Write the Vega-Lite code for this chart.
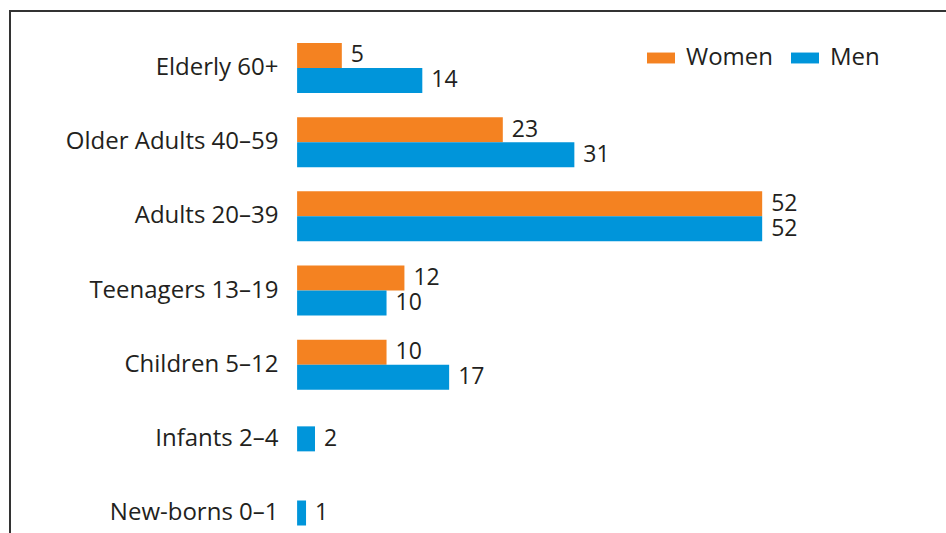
{
  "$schema": "https://vega.github.io/schema/vega-lite/v6.json",
  "width": 946,
  "height": 533,
  "autosize": {"type": "fit", "contains": "padding"},
  "padding": {"left": 10, "top": 11, "right": -4, "bottom": -37},
  "background": "white",
  "config": {
    "view": {"stroke": "#333333", "strokeWidth": 2},
    "font": "Open Sans",
    "text": {"font": "Open Sans"}
  },
  "data": {
    "values": [
      {"group": "Elderly 60+", "gender": "Women", "n": 5},
      {"group": "Elderly 60+", "gender": "Men", "n": 14},
      {"group": "Older Adults 40–59", "gender": "Women", "n": 23},
      {"group": "Older Adults 40–59", "gender": "Men", "n": 31},
      {"group": "Adults 20–39", "gender": "Women", "n": 52},
      {"group": "Adults 20–39", "gender": "Men", "n": 52},
      {"group": "Teenagers 13–19", "gender": "Women", "n": 12},
      {"group": "Teenagers 13–19", "gender": "Men", "n": 10},
      {"group": "Children 5–12", "gender": "Women", "n": 10},
      {"group": "Children 5–12", "gender": "Men", "n": 17},
      {"group": "Infants 2–4", "gender": "Men", "n": 2},
      {"group": "New-borns 0–1", "gender": "Men", "n": 1}
    ]
  },
  "encoding": {
    "y": {
      "field": "group",
      "type": "nominal",
      "sort": null,
      "scale": {"paddingInner": 0.326, "paddingOuter": 0.431},
      "axis": {
        "title": null,
        "offset": -287,
        "domain": false,
        "ticks": false,
        "labelPadding": 19,
        "labelLimit": 0,
        "labelFontSize": 24,
        "labelFont": "Open Sans",
        "labelColor": "#231F20"
      }
    },
    "x": {
      "field": "n",
      "type": "quantitative",
      "scale": {"domain": [-32.1, 73.0], "nice": false, "zero": false},
      "axis": null
    },
    "color": {
      "field": "gender",
      "type": "nominal",
      "scale": {"domain": ["Women", "Men"], "range": ["#F48221", "#0095DA"]},
      "legend": {
        "title": null,
        "orient": "none",
        "legendX": 637,
        "legendY": 33,
        "direction": "horizontal",
        "symbolType": "M-1,-0.39H1V0.39H-1Z",
        "symbolSize": 784,
        "symbolStrokeWidth": 0,
        "symbolOpacity": 1,
        "labelFontSize": 24,
        "labelFont": "Open Sans",
        "labelColor": "#231F20",
        "labelOffset": 11,
        "columnPadding": 17,
        "padding": 0
      }
    }
  },
  "layer": [
    {
      "transform": [{"filter": {"not": {"field": "group", "oneOf": ["Infants 2–4", "New-borns 0–1"]}}}],
      "mark": {"type": "bar", "opacity": 1},
      "encoding": {
        "x2": {"datum": 0},
        "yOffset": {"field": "gender", "type": "nominal", "sort": ["Women", "Men"], "scale": {"paddingInner": 0, "paddingOuter": 0}}
      }
    },
    {
      "transform": [{"filter": {"not": {"field": "group", "oneOf": ["Infants 2–4", "New-borns 0–1"]}}}],
      "mark": {"type": "text", "align": "left", "baseline": "middle", "dx": 9, "fontSize": 23},
      "encoding": {
        "text": {"field": "n", "type": "quantitative"},
        "color": {"value": "#231F20"},
        "yOffset": {"field": "gender", "type": "nominal", "sort": ["Women", "Men"]}
      }
    },
    {
      "transform": [{"filter": {"field": "group", "oneOf": ["Infants 2–4", "New-borns 0–1"]}}],
      "mark": {"type": "bar", "opacity": 1, "height": {"band": 0.5}},
      "encoding": {
        "x2": {"datum": 0}
      }
    },
    {
      "transform": [{"filter": {"field": "group", "oneOf": ["Infants 2–4", "New-borns 0–1"]}}],
      "mark": {"type": "text", "align": "left", "baseline": "middle", "dx": 9, "fontSize": 23},
      "encoding": {
        "text": {"field": "n", "type": "quantitative"},
        "color": {"value": "#231F20"}
      }
    }
  ]
}
